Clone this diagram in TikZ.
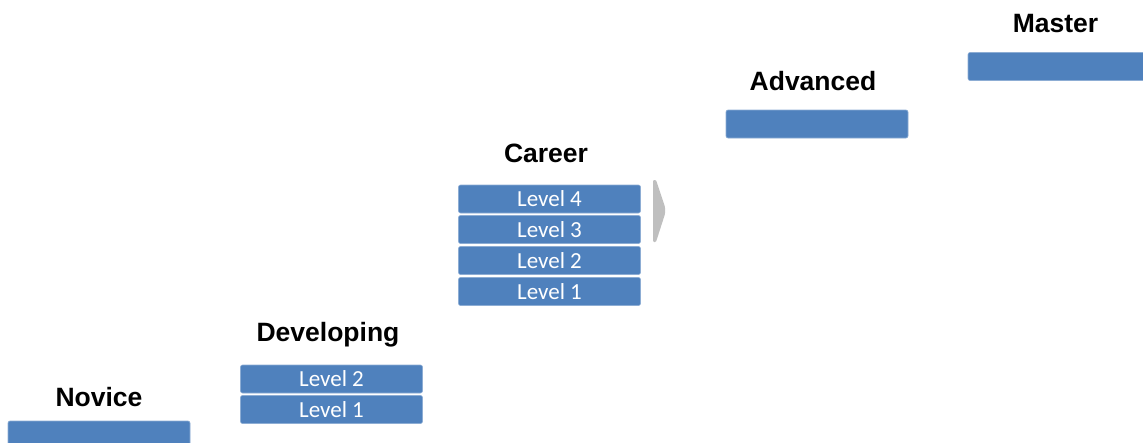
\documentclass[tikz,border=0pt]{standalone}
\usepackage{fontspec}
\setmainfont{Liberation Sans}
\newfontfamily\levelfont{Carlito}
\definecolor{stageBlue}{HTML}{4F81BD}
\colorlet{stageBlueEdge}{stageBlue!65!white}
\definecolor{chevronGray}{HTML}{BFBFBF}
\usetikzlibrary{positioning}

\tikzset{
  stagebar/.style={fill=stageBlue, draw=stageBlueEdge, line width=0.6pt, rounded corners=2pt,
    minimum width=182pt, minimum height=28pt, inner sep=0pt, text=white,
    font=\levelfont\fontsize{23}{23}\selectfont},
  stagename/.style={anchor=base, inner sep=0pt, font=\bfseries\fontsize{26.5}{26.5}\selectfont},
}

\begin{document}
\begin{tikzpicture}[x=1pt, y=-1pt]
  \useasboundingbox (0,0) rectangle (1143,442);
  \clip (0,0) rectangle (1143,442);

  % novice
  \node[stagebar] (novice) at (99,435) {};
  \node[stagename] (noviceName) at (99,406) {Novice};

  % developing
  \node[stagebar] (devTwo) at (331.5,379) {Level 2};
  \node[stagebar] (devOne) at (331.5,409.5) {Level 1};
  \node[stagename] (devName) at (328,341) {Developing};

  % career
  \node[stagebar] (careerFour) at (549.5,199) {Level 4};
  \node[stagebar] (careerThree) at (549.5,229.5) {Level 3};
  \node[stagebar] (careerTwo) at (549.5,260.5) {Level 2};
  \node[stagebar] (careerOne) at (549.5,291.5) {Level 1};
  \node[stagename] (careerName) at (546,162) {Career};
  \fill[chevronGray, rounded corners=1pt] (653,180) -- (656,180) -- (665,207) -- (665,214)
    -- (656,242) -- (653,242) -- cycle;

  % advanced
  \node[stagebar] (advanced) at (817,124) {};
  \node[stagename] (advName) at (813,90) {Advanced};

  % master
  \node[stagebar] (master) at (1059,66.5) {};
  \node[stagename] (masterName) at (1055.5,32) {Master};
\end{tikzpicture}
\end{document}
